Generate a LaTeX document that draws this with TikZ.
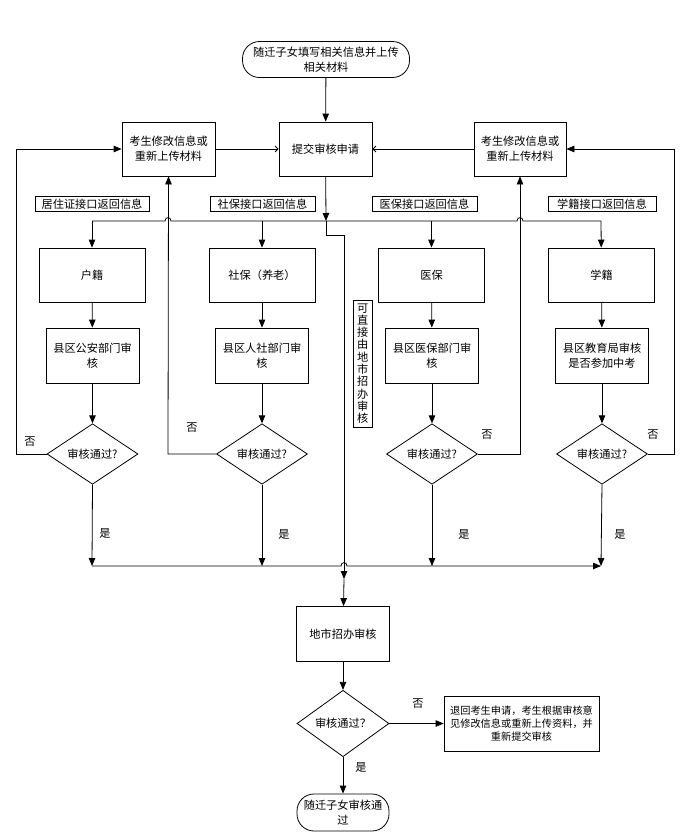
\documentclass[tikz,border=0pt]{standalone}
\usepackage{fontspec}
\setmainfont{Noto Sans CJK SC}
\usetikzlibrary{arrows.meta,shapes.geometric}
\begin{document}
\begin{tikzpicture}[x=1pt,y=-1pt,
  font=\fontsize{11.2pt}{15pt}\selectfont,
  line width=0.8pt,
  box/.style={draw, rectangle, align=center, inner sep=1pt},
  term/.style={draw, rectangle, rounded corners=17pt, align=center, inner sep=0pt},
  dec/.style={draw, diamond, inner sep=0pt, minimum width=91pt, minimum height=54pt},
  lab/.style={draw, rectangle, inner sep=1.5pt, minimum height=15pt},
  sz/.style 2 args={minimum width=#1pt, minimum height=#2pt},
  arr/.style={-{Triangle[length=8pt,width=6.5pt]}},
  oarr/.style={-{Straight Barb[length=3pt,width=6pt]}},
  txt/.style={inner sep=0pt}
]
\useasboundingbox (0,0) rectangle (685,836);

% top
\node[term, sz={167}{36}] (start) at (326,59.5) {随迁子女填写相关信息并上传\\相关材料};
\node[box, sz={93}{54}] (submit) at (325.5,149) {提交审核申请};
\node[box, sz={93}{54}] (modL) at (168.5,149) {考生修改信息或\\重新上传材料};
\node[box, sz={92}{54}] (modR) at (520,149) {考生修改信息或\\重新上传材料};

% interface labels
\node[lab, sz={114}{15}] (lab1) at (92,204) {居住证接口返回信息};
\node[lab, sz={105}{15}] (lab2) at (262.5,204) {社保接口返回信息};
\node[lab, sz={105}{15}] (lab3) at (424.5,204) {医保接口返回信息};
\node[lab, sz={108}{15}] (lab4) at (602,204) {学籍接口返回信息};

% row 1
\node[box, sz={106}{54}] (hj) at (92,275) {户籍};
\node[box, sz={106}{54}] (sb) at (262,275) {社保（养老）};
\node[box, sz={106}{54}] (yb) at (431.5,275) {医保};
\node[box, sz={106}{54}] (xj) at (601.5,275) {学籍};

% row 2
\node[box, sz={93}{55}] (ga) at (92.5,355.5) {县区公安部门审\\核};
\node[box, sz={93}{55}] (rs) at (262,355.5) {县区人社部门审\\核};
\node[box, sz={93}{55}] (yb2) at (432,355.5) {县区医保部门审\\核};
\node[box, sz={93}{55}] (jy) at (602,355.5) {县区教育局审核\\是否参加中考};

% vertical label
\node[box, sz={18.5}{127}, inner sep=0pt, font=\fontsize{11.2pt}{12.3pt}\selectfont] (vl) at (362.75,363.5) {可\\直\\接\\由\\地\\市\\招\\办\\审\\核};

% diamonds
\node[dec] (d1) at (92.5,454) {审核通过?};
\node[dec] (d2) at (262,454) {审核通过?};
\node[dec] (d3) at (432,454) {审核通过?};
\node[dec] (d4) at (602,454) {审核通过?};

% bottom part
\node[box, sz={93}{55}] (city) at (343,634) {地市招办审核};
\node[dec, minimum width=92pt] (d5) at (343,723.5) {审核通过？};
\node[box, sz={155}{55}, font=\fontsize{10.2pt}{13pt}\selectfont] (ret) at (521.5,723.5) {退回考生申请，考生根据审核意\\见修改信息或重新上传资料，并\\重新提交审核};
\node[term, sz={92}{37}] (end) at (343,812.5) {随迁子女审核通\\过};

% labels yes/no
\node[txt] (n1) at (30,442) {否};
\node[txt] (n2) at (192,428) {否};
\node[txt] (n3) at (487,435) {否};
\node[txt] (n4) at (653,435) {否};
\node[txt] (y1) at (105,533) {是};
\node[txt] (y2) at (284,534) {是};
\node[txt] (y3) at (464,534) {是};
\node[txt] (y4) at (620,534) {是};
\node[txt] (n5) at (418,704) {否};
\node[txt] (y5) at (361,767) {是};

% coordinates
\coordinate (j0) at (326,221);
\coordinate (j1) at (326,235);
\coordinate (j2) at (344,235);
\coordinate (cm) at (344,579);
\coordinate (b1L) at (92,221);
\coordinate (b1R) at (601,221);
\coordinate (b2L) at (92,566);
\coordinate (b2R) at (601,566);
\coordinate (oL) at (16.7,454);
\coordinate (oLt) at (16.7,149);
\coordinate (oR) at (674,454);
\coordinate (oRt) at (674,149);
\coordinate (iL) at (168,454);
\coordinate (iR) at (520,454);

% connectors top
\draw[arr] (start) -- (submit);
\draw[oarr] (modL) -- (submit);
\draw[oarr] (modR) -- (submit);
\draw[arr] (submit) -- (j0);

% bus 1 with jumps at 168 and 520
\draw (b1L) -- (165,221) .. controls (165,216.5) and (171,216.5) .. (171,221)
  -- (517,221) .. controls (517,216.5) and (523,216.5) .. (523,221) -- (b1R);

\draw[arr] (b1L) -- (hj);
\draw[arr] (262,221) -- (sb);
\draw[arr] (431.5,221) -- (yb);
\draw[arr] (b1R) -- (xj);

\draw[arr] (hj) -- (ga);
\draw[arr] (sb) -- (rs);
\draw[arr] (yb) -- (yb2);
\draw[arr] (xj) -- (jy);

\draw[arr] (ga) -- (d1);
\draw[arr] (rs) -- (d2);
\draw[arr] (yb2) -- (d3);
\draw[arr] (jy) -- (d4);

% no branches
\draw[arr] (d1.west) -- (oL) -- (oLt) -- (modL.west);
\draw[arr] (d2.west) -- (iL) -- (modL.south);
\draw[arr] (d3.east) -- (iR) -- (modR.south);
\draw[arr] (d4.east) -- (oR) -- (oRt) -- (modR.east);

% yes branches
\draw[arr] (d1.south) -- (b2L);
\draw[arr] (d2.south) -- (262,566);
\draw[arr] (d3.south) -- (432,566);
\draw[arr] (d4.south) -- (b2R);

% bus 2 with jump at 344
\draw[arr] (b2L) -- (341,566) .. controls (341,561.5) and (347,561.5) .. (347,566) -- (b2R);

% direct line
\draw[arr] (j0) -- (j1) -- (j2) -- (cm);
\draw[arr] (cm) -- (city);

% bottom
\draw[arr] (city) -- (d5);
\draw[arr] (d5) -- (ret);
\draw[arr] (d5) -- (end);
\end{tikzpicture}
\end{document}
